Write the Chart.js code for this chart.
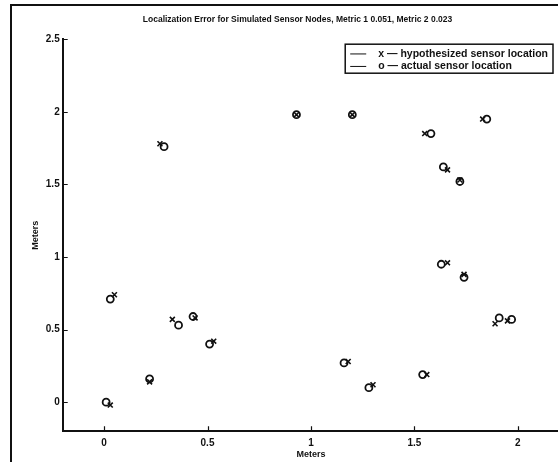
<!DOCTYPE html>
<html>
<head>
<meta charset="utf-8">
<script src="https://cdn.jsdelivr.net/npm/chart.js@4.4.1/dist/chart.umd.min.js"></script>
<style>
  html, body { margin: 0; padding: 0; background: #fff; overflow: hidden; }
  #wrap { position: relative; width: 558px; height: 462px; overflow: hidden; }
  #frame { position: absolute; left: 10px; top: 4px; width: 560px; height: 470px;
           border-left: 2px solid #111; border-top: 2px solid #111; }
  canvas { position: absolute; left: 0; top: 0; }
</style>
</head>
<body>
<div id="wrap">
  <div id="frame"></div>
  <canvas id="myChart" width="565" height="462"></canvas>
</div>
<script>
"use strict";

// hypothesized (x) and actual (o) sensor positions, in meters
var hypX = [0.03, 0.05, 0.22, 0.33, 0.44, 0.53, 0.27, 0.93, 1.20, 1.18, 1.30, 1.56, 1.55, 1.66, 1.72, 1.66, 1.74, 1.83, 1.89, 1.95];
var hypY = [-0.02, 0.74, 0.14, 0.57, 0.58, 0.42, 1.78, 1.98, 1.98, 0.28, 0.12, 0.19, 1.85, 1.60, 1.53, 0.96, 0.88, 1.95, 0.54, 0.56];
var actX = [0.01, 0.03, 0.22, 0.36, 0.43, 0.51, 0.29, 0.93, 1.20, 1.16, 1.28, 1.54, 1.58, 1.64, 1.72, 1.63, 1.74, 1.85, 1.91, 1.97];
var actY = [0.00, 0.71, 0.16, 0.53, 0.59, 0.40, 1.76, 1.98, 1.98, 0.27, 0.10, 0.19, 1.85, 1.62, 1.52, 0.95, 0.86, 1.95, 0.58, 0.57];

var xTicks = [0, 0.5, 1, 1.5, 2];
var yTicks = [0, 0.5, 1, 1.5, 2, 2.5];
var seriesLabels = ['x \u2014 hypothesized sensor location', 'o \u2014 actual sensor location'];
var chartTitle = 'Localization Error for Simulated Sensor Nodes, Metric 1 0.051, Metric 2 0.023';

function toPoints(xs, ys) {
    var pts = [];
    for (var i = 0; i < xs.length; i++) {
        pts.push({x: xs[i], y: ys[i]});
    }
    return pts;
}

var FONT = "'Liberation Sans', Arial, Helvetica, sans-serif";

// matlab style ticks pointing into the plot
var inwardTicks = {
    id: 'inwardTicks',
    afterDraw: function(chart) {
        var ctx = chart.ctx;
        var xs = chart.scales.x, ys = chart.scales.y;
        ctx.save();
        ctx.strokeStyle = '#111';
        ctx.lineWidth = 1.2;
        ctx.beginPath();
        xs.ticks.forEach(function(t) {
            var px = Math.round(xs.getPixelForValue(t.value)) + 0.5;
            ctx.moveTo(px, xs.top);
            ctx.lineTo(px, xs.top - 5);
        });
        ys.ticks.forEach(function(t) {
            var py = Math.round(ys.getPixelForValue(t.value)) + 0.5;
            ctx.moveTo(ys.right, py);
            ctx.lineTo(ys.right + 5, py);
        });
        ctx.stroke();
        ctx.restore();
    }
};

// boxed legend inside the top right of the plot
var boxLegend = {
    id: 'boxLegend',
    afterDraw: function(chart) {
        var ctx = chart.ctx;
        var area = chart.chartArea;
        var sets = chart.data.datasets;
        ctx.save();
        ctx.font = 'bold 10.5px ' + FONT;
        var maxW = 0;
        sets.forEach(function(ds) {
            maxW = Math.max(maxW, ctx.measureText(ds.label).width);
        });
        var rowH = 12.5;
        var w = 33 + maxW + 5;
        var h = sets.length * rowH + 4;
        var right = Math.min(area.right, 558) - 5;
        var left = right - w;
        var top = area.top + 5;
        ctx.fillStyle = '#fff';
        ctx.fillRect(left, top, w, h);
        ctx.strokeStyle = '#111';
        ctx.lineWidth = 1.5;
        ctx.strokeRect(left, top, w, h);
        ctx.fillStyle = '#111';
        ctx.textBaseline = 'middle';
        sets.forEach(function(ds, i) {
            var cy = top + 3.5 + rowH * i + rowH / 2;
            ctx.lineWidth = 1;
            ctx.beginPath();
            ctx.moveTo(left + 5, cy);
            ctx.lineTo(left + 21, cy);
            ctx.stroke();
            ctx.fillText(ds.label, left + 33, cy);
        });
        ctx.restore();
    }
};

var ctx = document.getElementById('myChart').getContext('2d');

var sensorChart = new Chart(ctx, {
    type: 'scatter',
    data: {
        datasets: [{
            label: seriesLabels[0],
            data: toPoints(hypX, hypY),
            pointStyle: 'crossRot',
            pointRadius: 3.5,
            borderColor: '#111',
            borderWidth: 1.6,
            backgroundColor: 'transparent'
        }, {
            label: seriesLabels[1],
            data: toPoints(actX, actY),
            pointStyle: 'circle',
            pointRadius: 3.5,
            borderColor: '#111',
            borderWidth: 1.8,
            backgroundColor: 'transparent'
        }]
    },
    options: {
        responsive: false,
        animation: false,
        layout: {padding: {left: 30, right: 0, top: 15, bottom: 2}},
        plugins: {
            legend: {display: false},
            tooltip: {enabled: false},
            title: {
                display: true,
                text: chartTitle,
                color: '#111',
                font: {family: FONT, size: 8.5},
                padding: {top: 0, bottom: 14}
            }
        },
        scales: {
            x: {
                type: 'linear',
                min: -0.2,
                max: 2.2,
                afterBuildTicks: function(scale) {
                    scale.ticks = xTicks.map(function(v) { return {value: v}; });
                },
                grid: {display: false, drawTicks: false},
                border: {display: true, color: '#111', width: 2},
                ticks: {color: '#111', font: {family: FONT, size: 10, weight: 'bold'}, padding: 6, maxRotation: 0,
                        callback: function(v) { return String(v); }},
                title: {display: true, text: 'Meters', color: '#111', font: {family: FONT, size: 9, weight: 'bold'}, padding: {top: -6, bottom: 0}}
            },
            y: {
                type: 'linear',
                min: -0.2,
                max: 2.5,
                afterBuildTicks: function(scale) {
                    scale.ticks = yTicks.map(function(v) { return {value: v}; });
                },
                grid: {display: false, drawTicks: false},
                border: {display: true, color: '#111', width: 2},
                ticks: {color: '#111', font: {family: FONT, size: 10, weight: 'bold'}, padding: 3,
                        callback: function(v) { return String(v); }},
                title: {display: true, text: 'Meters', color: '#111', font: {family: FONT, size: 9, weight: 'bold'}, padding: {top: 0, bottom: 2}}
            }
        }
    },
    plugins: [inwardTicks, boxLegend]
});
</script>
</body>
</html>
